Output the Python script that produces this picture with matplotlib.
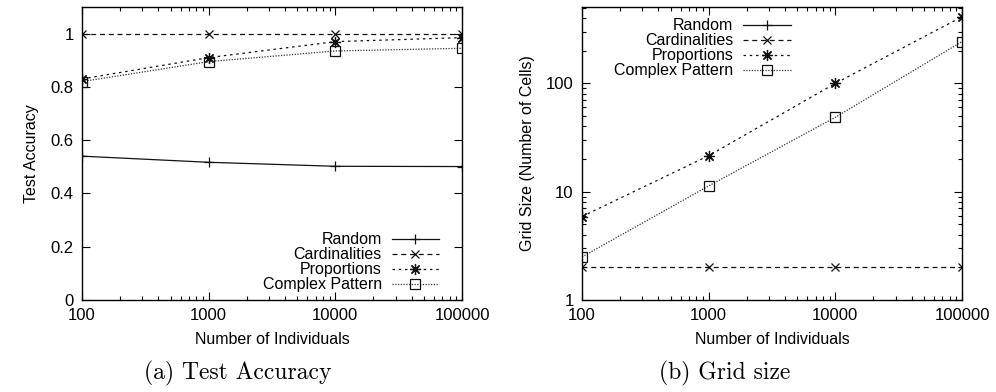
import matplotlib
matplotlib.use("Agg")
import matplotlib.pyplot as plt
from matplotlib.ticker import FixedLocator, FuncFormatter, LogLocator, NullFormatter
import numpy as np

individuals = [100, 1000, 10000, 100000]
series_names = ["Random", "Cardinalities", "Proportions", "Complex Pattern"]

acc_random = [0.54, 0.517, 0.502, 0.501]
acc_cardinalities = [1.0, 1.0, 1.0, 1.0]
acc_proportions = [0.83, 0.91, 0.97, 0.985]
acc_complex = [0.82, 0.895, 0.935, 0.945]

grid_random = [np.nan, np.nan, np.nan, np.nan]
grid_cardinalities = [2, 2, 2, 2]
grid_proportions = [5.9, 21.5, 100, 412]
grid_complex = [2.5, 11.3, 48.6, 243]

x_ticks = [100, 1000, 10000, 100000]
acc_y_ticks = [0, 0.2, 0.4, 0.6, 0.8, 1]
grid_y_ticks = [1, 10, 100]

plt.rcParams['font.family'] = ['Liberation Sans', 'DejaVu Sans']
plt.rcParams['font.size'] = 11.5

fig = plt.figure(figsize=(9.96, 3.92), dpi=100)
ax1 = fig.add_axes([82/996, 1-300/392, 380/996, 293/392])
ax2 = fig.add_axes([582/996, 1-300/392, 380/996, 293/392])

col = '#111111'
styles = [
    dict(ls='-', marker='+', ms=7, mew=0.9, color=col, lw=0.9),
    dict(ls=(0, (4, 3)), marker='x', ms=6, mew=0.9, color=col, lw=0.9),
    dict(ls=(0, (2, 3)), marker=(8, 2, 0), ms=8, mew=0.9, color=col, lw=0.9),
    dict(ls=(0, (1, 1.2)), marker='s', ms=7, mew=0.9, color='#333333', mfc='none', mec=col, lw=0.9),
]

acc_data = [acc_random, acc_cardinalities, acc_proportions, acc_complex]
grid_data = [grid_random, grid_cardinalities, grid_proportions, grid_complex]

for ax, data in [(ax1, acc_data), (ax2, grid_data)]:
    for name, vals, st in zip(series_names, data, styles):
        ax.plot(individuals, vals, label=name, **st)
    ax.set_xscale('log')
    ax.set_xlim(100, 100000)
    ax.xaxis.set_major_locator(FixedLocator(x_ticks))
    ax.xaxis.set_major_formatter(FuncFormatter(lambda v, p: f"{int(round(v))}"))
    ax.xaxis.set_minor_locator(LogLocator(base=10, subs=np.arange(2, 10), numticks=20))
    ax.xaxis.set_minor_formatter(NullFormatter())
    ax.tick_params(which='both', direction='in', top=True, right=True, labelsize=12, pad=6)
    ax.tick_params(which='major', length=6, width=0.8)
    ax.tick_params(which='minor', length=3, width=0.8)
    for s in ax.spines.values():
        s.set_linewidth(1.0)
    ax.set_xlabel("Number of Individuals", fontsize=11.5, labelpad=6)

ax1.set_ylim(0, 1.1)
ax1.yaxis.set_major_locator(FixedLocator(acc_y_ticks))
ax1.yaxis.set_major_formatter(FuncFormatter(lambda v, p: f"{v:g}"))
ax1.set_ylabel("Test Accuracy", fontsize=11.5, labelpad=8)

ax2.set_yscale('log')
ax2.set_ylim(1, 507)
ax2.yaxis.set_major_locator(FixedLocator(grid_y_ticks))
ax2.yaxis.set_major_formatter(FuncFormatter(lambda v, p: f"{int(round(v))}"))
ax2.yaxis.set_minor_locator(LogLocator(base=10, subs=np.arange(2, 10), numticks=20))
ax2.yaxis.set_minor_formatter(NullFormatter())
ax2.set_ylabel("Grid Size (Number of Cells)", fontsize=11.5, labelpad=8)

leg_kw = dict(frameon=False, markerfirst=False, fontsize=11.5, handlelength=3.0,
              handletextpad=0.6, labelspacing=0.0, borderpad=0.2)
ax1.legend(loc='lower right', bbox_to_anchor=(0.97, -0.012), **leg_kw)
ax2.legend(loc='upper left', bbox_to_anchor=(0.055, 1.0), **leg_kw)

fig.text(238/996, 1-373/392, "(a) Test Accuracy", ha='center', va='center',
         fontsize=17, family=['cmr10', 'DejaVu Serif'])
fig.text(725/996, 1-373/392, "(b) Grid size", ha='center', va='center',
         fontsize=17, family=['cmr10', 'DejaVu Serif'])

fig.savefig("out.png", dpi=100)
